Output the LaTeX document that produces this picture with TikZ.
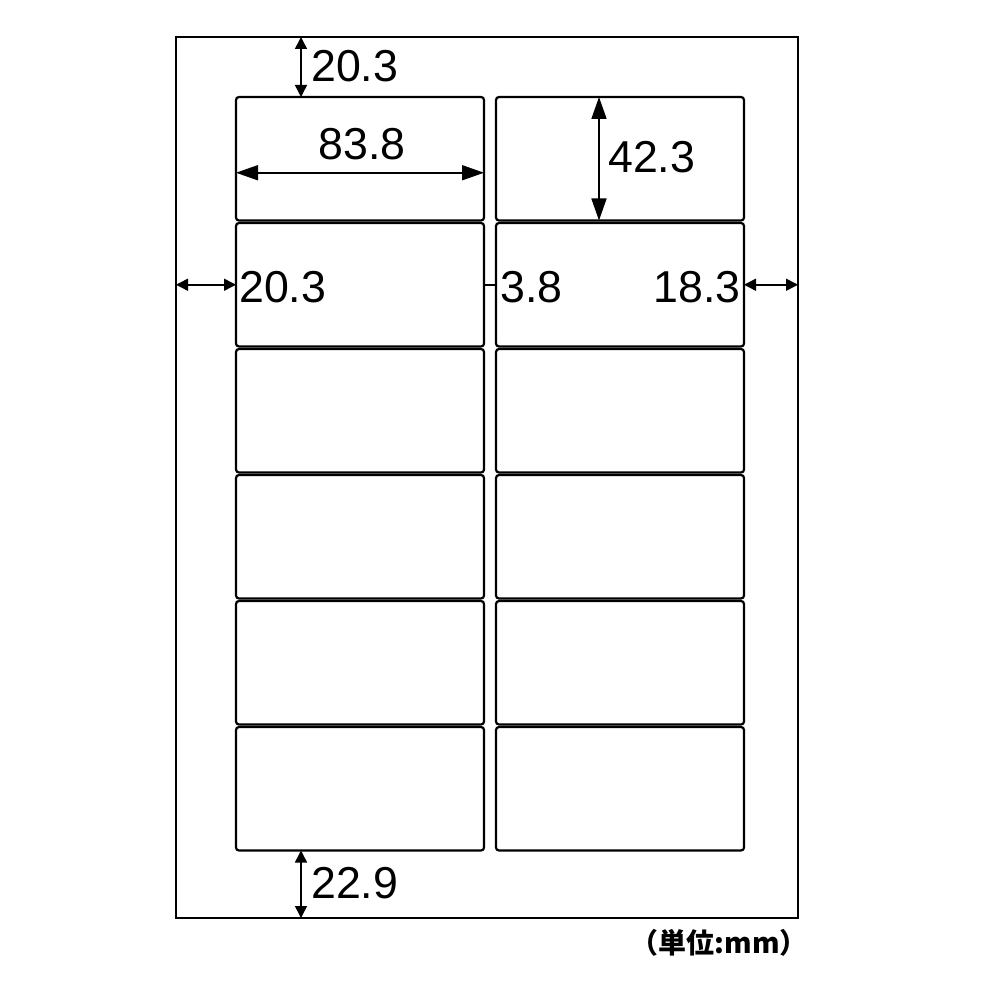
\documentclass[tikz,border=0pt]{standalone}
\usepackage{fontspec}
\setmainfont{Liberation Sans}
\newfontfamily\jpfont{Noto Sans CJK JP}
\usetikzlibrary{positioning, arrows.meta}
\tikzset{
    sheet/.style={rectangle, draw, line width=2.4pt, outer sep=0pt, inner sep=0pt, minimum width=622pt, minimum height=881pt},
    cell/.style={rectangle, draw, line width=2.2pt, rounded corners=3pt, outer sep=0pt, inner sep=0pt, minimum width=248pt, minimum height=123.5pt},
    dim/.style={line width=1.5pt, {Triangle[length=12pt,width=12pt]}-{Triangle[length=12pt,width=12pt]}},
    bigdim/.style={line width=1.7pt, {Triangle[length=22pt,width=15pt]}-{Triangle[length=22pt,width=15pt]}},
    num/.style={font=\fontsize{44.7}{48}\selectfont, inner sep=0pt},
    unit/.style={font=\jpfont\bfseries\fontsize{28}{32}\selectfont, inner sep=0pt},
}
\begin{document}
\begin{tikzpicture}[x=1pt, y=-1pt]
                        \useasboundingbox (0,0) rectangle (1000,1000);
                        \node [sheet] (sheet) at (487,477.5) {};
                        % left column
                        \node [cell] (l1) at (360,158.75) {};
                        \node [cell] (l2) [below=2.5pt of l1] {};
                        \node [cell] (l3) [below=2.5pt of l2] {};
                        \node [cell] (l4) [below=2.5pt of l3] {};
                        \node [cell] (l5) [below=2.5pt of l4] {};
                        \node [cell] (l6) [below=2.5pt of l5] {};
                        % right column
                        \node [cell] (r1) [right=12pt of l1] {};
                        \node [cell] (r2) [below=2.5pt of r1] {};
                        \node [cell] (r3) [below=2.5pt of r2] {};
                        \node [cell] (r4) [below=2.5pt of r3] {};
                        \node [cell] (r5) [below=2.5pt of r4] {};
                        \node [cell] (r6) [below=2.5pt of r5] {};
                        % dimensions
                        \coordinate (tx) at (301,0);
                        \coordinate (hx) at (599,0);
                        \draw[dim] (tx |- sheet.north) -- (tx |- l1.north);
                        \draw[dim] (tx |- l6.south) -- (tx |- sheet.south);
                        \draw[dim] (sheet.west |- l2.west) -- (l2.west);
                        \draw[dim] (r2.east) -- (sheet.east |- r2.east);
                        \draw[line width=1.5pt] (l2.east) -- (r2.west);
                        \draw[bigdim] ([yshift=-14pt]l1.west) -- ([yshift=-14pt]l1.east);
                        \draw[bigdim] (hx |- r1.north) -- (hx |- r1.south);
                        % labels
                        \node [num, anchor=west] (top) at (311,66) {20.3};
                        \node [num] (width) at (362,144) {83.8};
                        \node [num, anchor=west] (height) at (608,157) {42.3};
                        \node [num, anchor=west] (left) at (239,287) {20.3};
                        \node [num, anchor=west] (gap) at (500,287) {3.8};
                        \node [num, anchor=east] (right) at (741,287) {18.3};
                        \node [num, anchor=west] (bottom) at (311,883) {22.9};
                        \node [unit, anchor=east] (unit) at (808,943) {（単位:mm）};
                    \end{tikzpicture}
\end{document}
